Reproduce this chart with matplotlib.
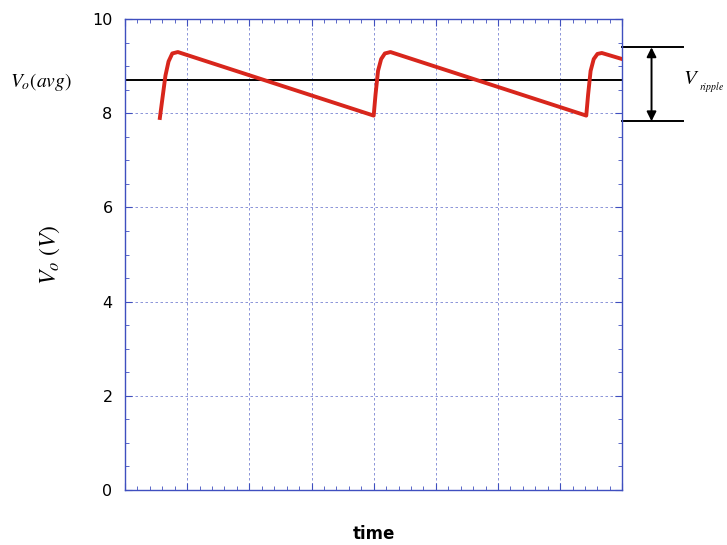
import matplotlib
matplotlib.use("Agg")
import matplotlib.pyplot as plt
from matplotlib.ticker import MultipleLocator

plt.rcParams['mathtext.fontset'] = 'stix'

# waveform (time in grid divisions, volts)
t = [0.56, 0.60, 0.65, 0.70, 0.76, 0.85,
     4.00, 4.03, 4.07, 4.12, 4.18, 4.27,
     7.42, 7.45, 7.49, 7.54, 7.60, 7.67, 8.00]
vo = [7.90, 8.30, 8.80, 9.10, 9.27, 9.30,
      7.95, 8.40, 8.90, 9.15, 9.27, 9.30,
      7.95, 8.40, 8.90, 9.15, 9.26, 9.28, 9.15]
v_avg = 8.7
v_top = 9.4
v_bot = 7.83
y_ticks = [0, 2, 4, 6, 8, 10]

blue = '#3f4fbf'

fig = plt.figure(figsize=(7.27, 5.45), dpi=100)
ax = fig.add_axes([0.172, 0.101, 0.684, 0.864])

ax.plot(t, vo, color='#d8261c', lw=2.8, solid_joinstyle='round', zorder=3)
ax.axhline(v_avg, color='black', lw=1.4, zorder=2)

ax.set_xlim(0, 8)
ax.set_ylim(0, 10)
ax.set_yticks(y_ticks)
ax.xaxis.set_major_locator(MultipleLocator(1))
ax.xaxis.set_minor_locator(MultipleLocator(0.2))
ax.yaxis.set_minor_locator(MultipleLocator(0.5))
ax.tick_params(which='both', direction='in', top=True, right=True, color=blue)
ax.tick_params(which='major', length=5, labelsize=11.5, pad=9)
ax.tick_params(which='minor', length=3)
ax.tick_params(axis='x', labelbottom=False)
for s in ax.spines.values():
    s.set_color(blue)
    s.set_linewidth(1.0)
ax.grid(True, which='major', color=blue, ls=(0, (3, 3)), lw=0.6, alpha=0.7)

# ripple marker outside the axes
ax.plot([8.0, 8.98], [v_top, v_top], color='black', lw=1.4, clip_on=False)
ax.plot([8.0, 8.98], [v_bot, v_bot], color='black', lw=1.4, clip_on=False)
ax.annotate('', xy=(8.47, v_top), xytext=(8.47, v_bot), xycoords='data',
            arrowprops=dict(arrowstyle='<|-|>', color='black', lw=1.4,
                            mutation_scale=14, shrinkA=0, shrinkB=0),
            annotation_clip=False)
ax.text(8.98, v_avg + 0.05, r'$V$', fontsize=15, va='center', ha='left',
        clip_on=False)
ax.text(9.24, v_avg - 0.14, r'$ripple$', fontsize=7, va='center', ha='left',
        clip_on=False)

fig.text(0.014, 0.85, r'$V_o(avg)$', fontsize=14, va='center', ha='left')
ax.set_ylabel(r'$\mathbf{\mathit{V_o\ (V)}}$', fontsize=17, labelpad=22)
ax.set_xlabel('time', fontsize=12, fontweight='bold', labelpad=22)

fig.savefig('out.png', dpi=100)
